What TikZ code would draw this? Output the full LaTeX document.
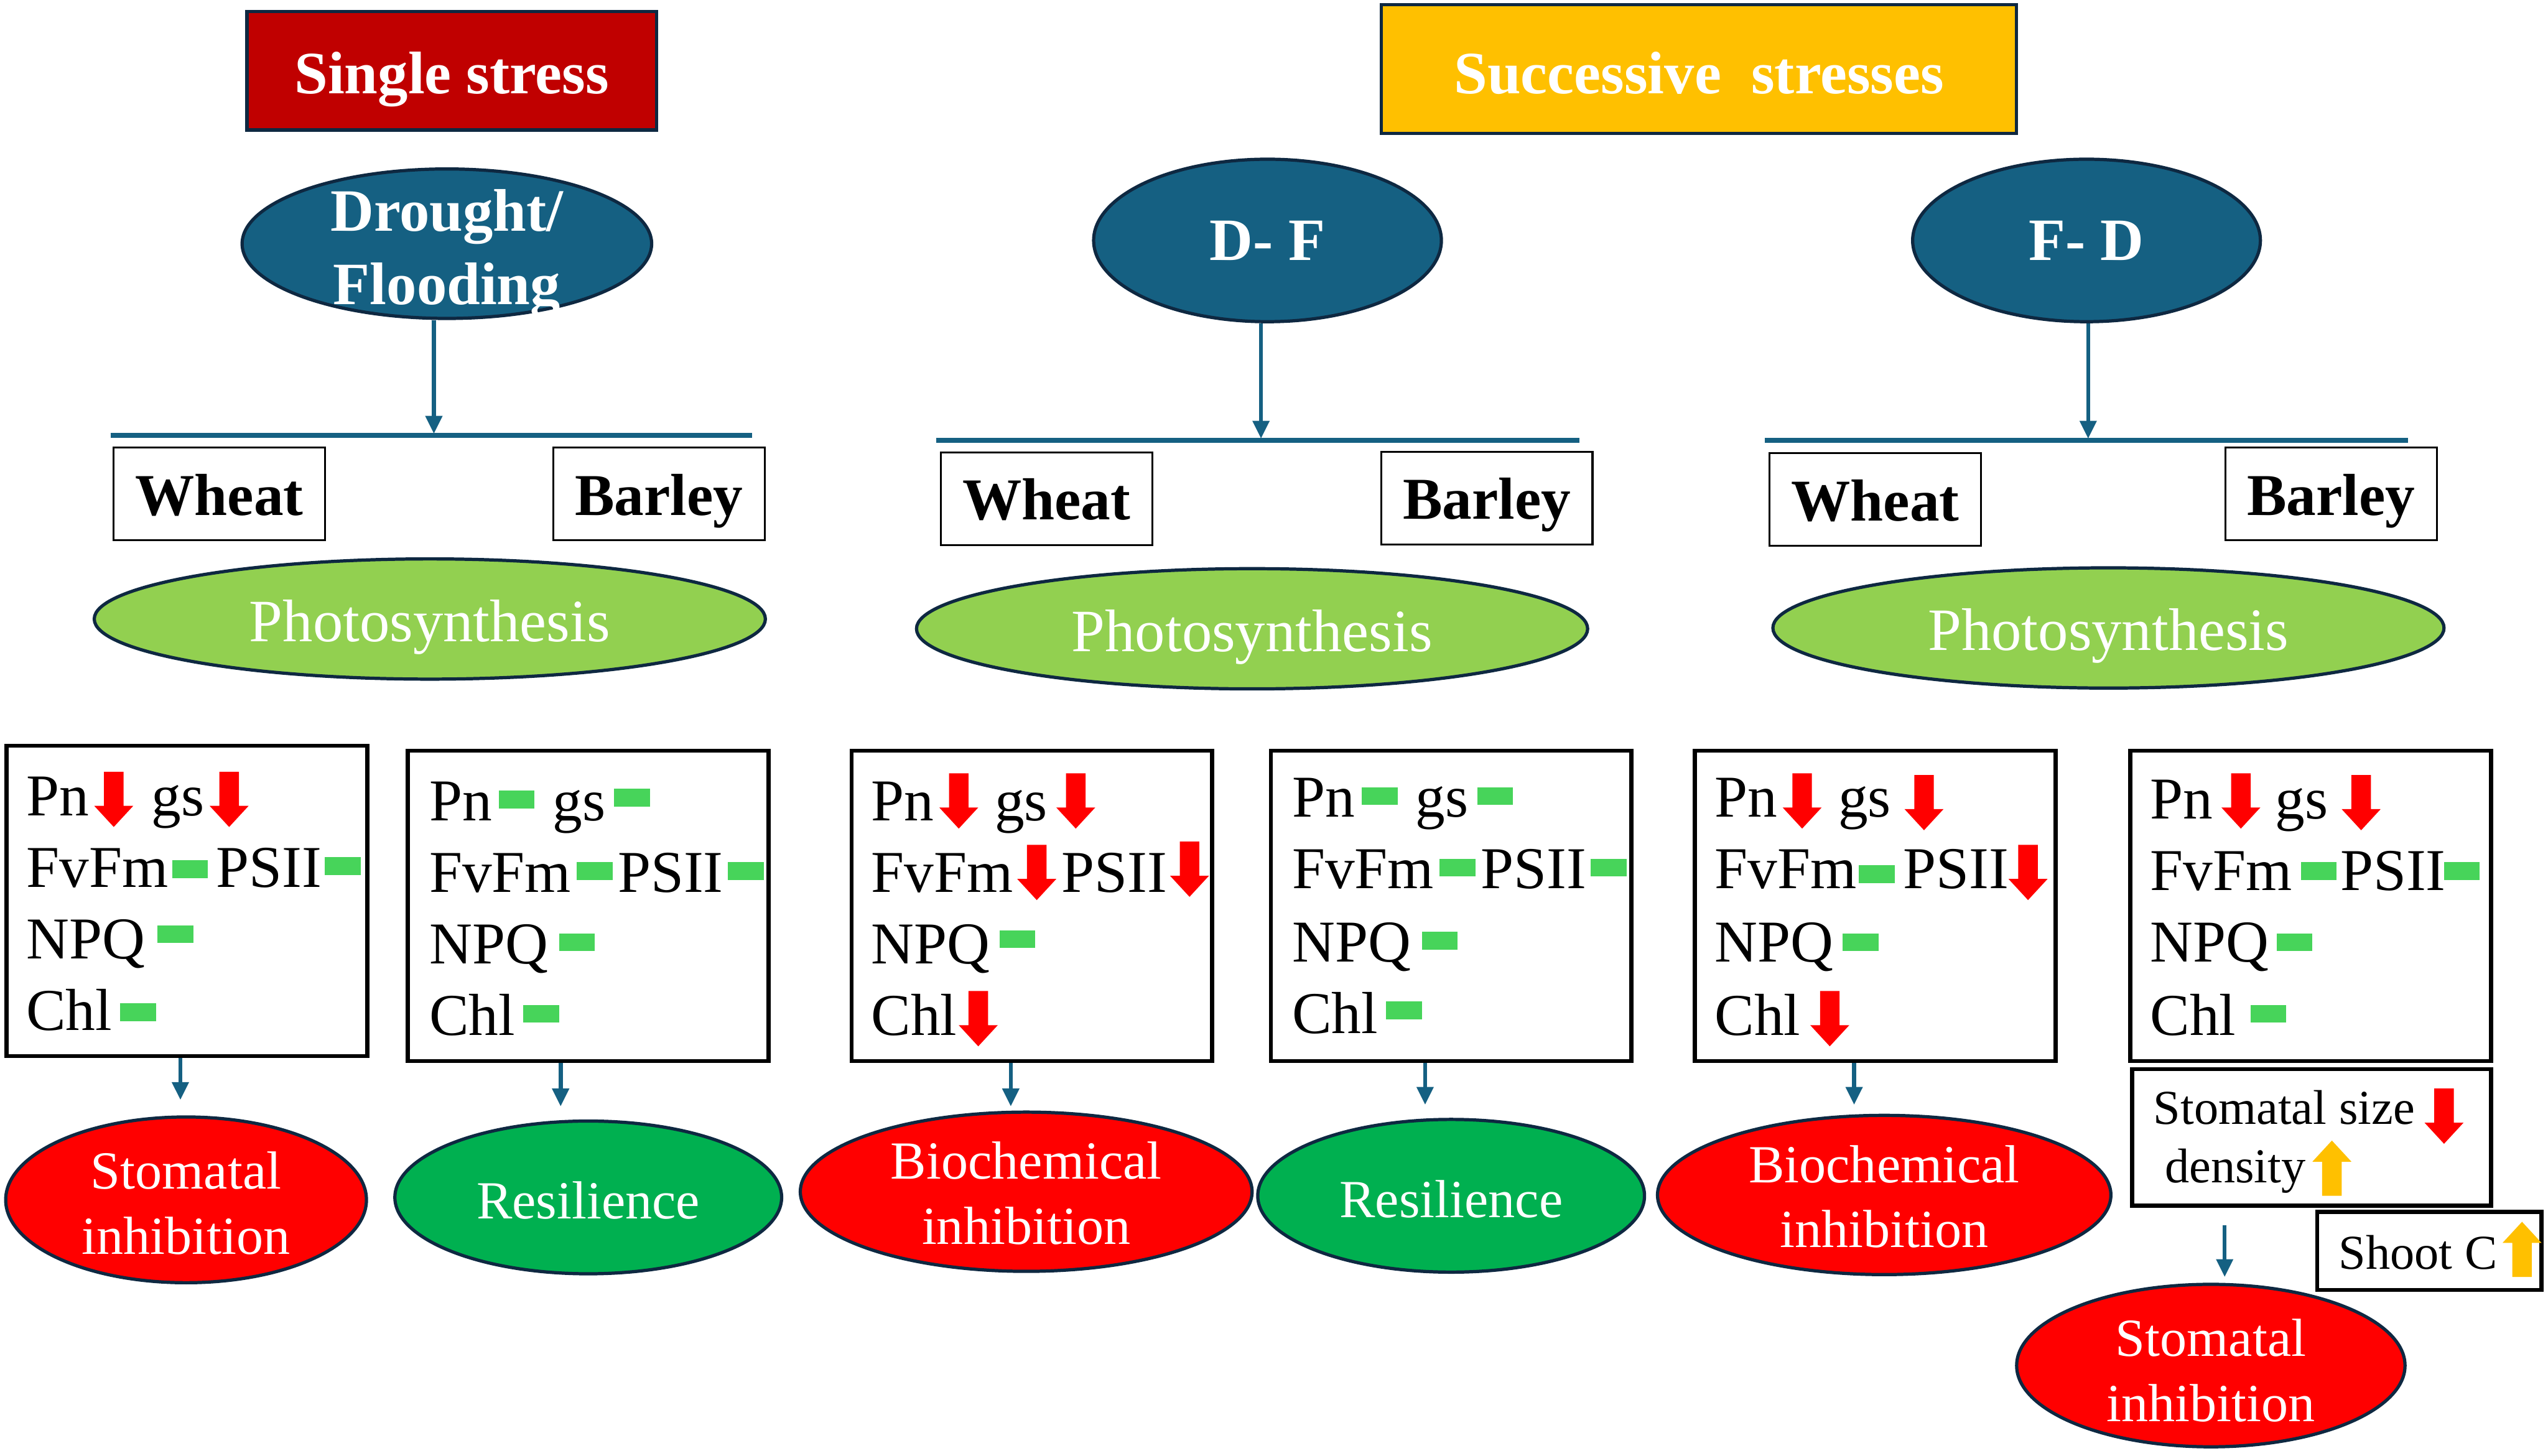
\documentclass[tikz,border=0pt]{standalone}
\usepackage{fontspec}
\setmainfont{Liberation Serif}
\usetikzlibrary{shapes.geometric,arrows.meta}
\definecolor{teal}{HTML}{156082}
\definecolor{navy}{HTML}{0E2841}
\definecolor{leaf}{HTML}{92D050}
\definecolor{dred}{HTML}{C00000}
\definecolor{gold}{HTML}{FFC000}
\definecolor{dgreen}{HTML}{00B050}
\definecolor{dashgreen}{HTML}{47D45A}
\tikzset{
  titlebox/.style={rectangle,draw=navy,line width=2pt,text=white,inner sep=0pt,font=\fontsize{37}{45}\selectfont\bfseries},
  ell/.style={ellipse,draw=navy,line width=2pt,inner sep=0pt},
  lblbold/.style={text=white,align=center,inner sep=0pt,font=\fontsize{37}{45}\selectfont\bfseries},
  lblphoto/.style={text=white,align=center,inner sep=0pt,yshift=-5pt,font=\fontsize{37}{45}\selectfont},
  lblres/.style={text=white,align=center,inner sep=0pt,yshift=-2pt,font=\fontsize{33}{40}\selectfont},
  cropbox/.style={rectangle,draw=black,line width=1.2pt,minimum width=130pt,minimum height=57pt,inner sep=0pt,text height=26pt,text depth=0pt,font=\fontsize{36.5}{44}\selectfont\bfseries},
  panel/.style={rectangle,draw=black,line width=2.5pt,minimum width=222pt,minimum height=191pt,inner sep=0pt},
  smallbox/.style={rectangle,draw=black,line width=2.5pt,inner sep=0pt},
  mtxt/.style={anchor=base west,inner sep=0pt,font=\fontsize{36.5}{44}\selectfont},
  stxt/.style={anchor=base west,inner sep=0pt,font=\fontsize{30}{36}\selectfont},
  link/.style={draw=teal,line width=2.5pt,-{Triangle[width=10pt,length=11pt]}},
  bar/.style={draw=teal,line width=3pt},
}
% dash mark: left x, centre y
\newcommand{\dashmark}[2]{\fill[dashgreen] (#1,#2-5.5) rectangle (#1+22,#2+5.5);}
% down arrow: centre x, top y
\newcommand{\dnmark}[2]{\fill[red] (#1-6,#2) -- (#1+6,#2) -- (#1+6,#2+21) -- (#1+12,#2+21) -- (#1,#2+34) -- (#1-12,#2+21) -- (#1-6,#2+21) -- cycle;}
% up arrow: centre x, top y
\newcommand{\upmark}[2]{\fill[gold] (#1,#2) -- (#1+12,#2+13) -- (#1+6,#2+13) -- (#1+6,#2+34) -- (#1-6,#2+34) -- (#1-6,#2+13) -- (#1-12,#2+13) -- cycle;}
\newcommand{\mt}[4]{\node[mtxt] (#1) at (#2,#3+12) {#4};}
\begin{document}
\begin{tikzpicture}[x=1pt,y=-1pt]
\useasboundingbox (0,0) rectangle (1568,896);

% titles
\node[titlebox,fill=dred,minimum width=252pt,minimum height=73pt,text height=29pt,text depth=1pt] (single) at (278,43.5) {Single stress};
\node[titlebox,fill=gold,minimum width=391pt,minimum height=79pt,text height=30pt,text depth=0pt] (succ) at (1045.5,42.5) {Successive\ \ stresses};

% stress ellipses
\node[ell,fill=teal,minimum width=252pt,minimum height=92pt,label={[lblbold,yshift=-6pt]center:{Drought/\\Flooding}}] (dfl) at (275,150) {};
\node[ell,fill=teal,minimum width=214pt,minimum height=100pt,label={[lblbold]center:{D- F}}] (df) at (780,148) {};
\node[ell,fill=teal,minimum width=214pt,minimum height=100pt,label={[lblbold]center:{F- D}}] (fd) at (1284,148) {};

% bars
\coordinate (b1l) at (68,268); \coordinate (b1r) at (463,268);
\coordinate (b2l) at (576,271); \coordinate (b2r) at (972,271);
\coordinate (b3l) at (1086,271); \coordinate (b3r) at (1482,271);
\draw[bar] (b1l) -- (b1r);
\draw[bar] (b2l) -- (b2r);
\draw[bar] (b3l) -- (b3r);
\coordinate (t1) at (267,267); \coordinate (t2) at (776,270); \coordinate (t3) at (1285,270);
\draw[link] (t1 |- dfl.south) -- (t1);
\draw[link] (t2 |- df.south) -- (t2);
\draw[link] (t3 |- fd.south) -- (t3);

% crops
\node[cropbox] (w1) at (135,304) {Wheat};
\node[cropbox] (b1) at (405.5,304) {Barley};
\node[cropbox] (w2) at (644,307) {Wheat};
\node[cropbox] (b2) at (915,306.5) {Barley};
\node[cropbox] (w3) at (1154,307.5) {Wheat};
\node[cropbox] (b3) at (1434.5,304) {Barley};

% photosynthesis
\node[ell,fill=leaf,minimum width=413pt,minimum height=74pt,label={[lblphoto]center:{Photosynthesis}}] (ph1) at (264.5,381) {};
\node[ell,fill=leaf,minimum width=413pt,minimum height=74pt,label={[lblphoto]center:{Photosynthesis}}] (ph2) at (770.5,387) {};
\node[ell,fill=leaf,minimum width=413pt,minimum height=74pt,label={[lblphoto]center:{Photosynthesis}}] (ph3) at (1297.5,386.5) {};

% panels
\node[panel] (p1) at (115,554.5) {};
\node[panel] (p2) at (362,557.5) {};
\node[panel] (p3) at (635,557.5) {};
\node[panel] (p4) at (893,557.5) {};
\node[panel] (p5) at (1154,557.5) {};
\node[panel] (p6) at (1422,557.5) {};

% panel 1
\mt{a1}{16}{490}{Pn} \dnmark{70}{475} \mt{a2}{93}{490}{gs} \dnmark{141}{475}
\mt{a3}{16}{534}{FvFm} \dashmark{106}{535} \mt{a4}{133}{534}{PSII} \dashmark{200}{533}
\mt{a5}{16}{578}{NPQ} \dashmark{97}{575}
\mt{a6}{16}{622}{Chl} \dashmark{74}{623}
% panel 2
\mt{b1t}{264}{493}{Pn} \dashmark{307}{492} \mt{b2t}{340}{493}{gs} \dashmark{378}{491}
\mt{b3t}{264}{537}{FvFm} \dashmark{355}{536} \mt{b4t}{380}{537}{PSII} \dashmark{448}{536}
\mt{b5t}{264}{581}{NPQ} \dashmark{344}{580}
\mt{b6t}{264}{625}{Chl} \dashmark{322}{624}
% panel 3
\mt{c1}{536}{493}{Pn} \dnmark{590}{476} \mt{c2}{612}{493}{gs} \dnmark{662}{476}
\mt{c3}{536}{537}{FvFm} \dnmark{638}{520} \mt{c4}{653}{537}{PSII} \dnmark{732}{518}
\mt{c5}{536}{581}{NPQ} \dashmark{615}{578}
\mt{c6}{536}{625}{Chl} \dnmark{602}{610}
% panel 4
\mt{d1}{795}{491}{Pn} \dashmark{838}{490} \mt{d2}{871}{491}{gs} \dashmark{909}{490}
\mt{d3}{795}{535}{FvFm} \dashmark{886}{534} \mt{d4}{911}{535}{PSII} \dashmark{979}{534}
\mt{d5}{795}{580}{NPQ} \dashmark{875}{579}
\mt{d6}{795}{624}{Chl} \dashmark{853}{622}
% panel 5
\mt{e1}{1055}{491}{Pn} \dnmark{1109}{476} \mt{e2}{1131}{491}{gs} \dnmark{1184}{477}
\mt{e3}{1055}{535}{FvFm} \dashmark{1144}{538} \mt{e4}{1171}{535}{PSII} \dnmark{1248}{520}
\mt{e5}{1055}{580}{NPQ} \dashmark{1134}{580}
\mt{e6}{1055}{625}{Chl} \dnmark{1126}{610}
% panel 6
\mt{f1}{1323}{492}{Pn} \dnmark{1379}{476} \mt{f2}{1400}{492}{gs} \dnmark{1453}{477}
\mt{f3}{1323}{536}{FvFm} \dashmark{1416}{536} \mt{f4}{1440}{536}{PSII} \dashmark{1504}{536}
\mt{f5}{1323}{580}{NPQ} \dashmark{1401}{580}
\mt{f6}{1323}{625}{Chl} \dashmark{1385}{624}

% extra boxes
\node[smallbox,minimum width=221pt,minimum height=84pt] (stom) at (1422.5,700) {};
\node[stxt] (s1) at (1325,692) {Stomatal size};
\dnmark{1504}{670}
\node[stxt] (s2) at (1332,728) {density};
\upmark{1435}{702}
\node[smallbox,minimum width=138pt,minimum height=48pt] (shoot) at (1495,770) {};
\node[stxt] (s3) at (1439,781) {Shoot C};
\upmark{1552}{752}

% outcome ellipses
\node[ell,fill=red,minimum width=222pt,minimum height=102pt,label={[lblres]center:{Stomatal\\inhibition}}] (r1) at (114.5,738.5) {};
\node[ell,fill=dgreen,minimum width=238pt,minimum height=94pt,label={[lblres]center:{Resilience}}] (r2) at (362,737) {};
\node[ell,fill=red,minimum width=278pt,minimum height=98pt,label={[lblres,yshift=1pt]center:{Biochemical\\inhibition}}] (r3) at (631.5,733.5) {};
\node[ell,fill=dgreen,minimum width=238pt,minimum height=94pt,label={[lblres]center:{Resilience}}] (r4) at (893,736) {};
\node[ell,fill=red,minimum width=279pt,minimum height=98pt,label={[lblres,yshift=1pt]center:{Biochemical\\inhibition}}] (r5) at (1159.5,735.5) {};
\node[ell,fill=red,minimum width=239pt,minimum height=100pt,label={[lblres,yshift=-1pt]center:{Stomatal\\inhibition}}] (r6) at (1360.5,840.5) {};

% outcome arrows
\coordinate (e1p) at (111,677); \coordinate (e2p) at (345,681); \coordinate (e3p) at (622,681);
\coordinate (e4p) at (877,680); \coordinate (e5p) at (1141,680);
\coordinate (e6s) at (1369,754); \coordinate (e6p) at (1369,786);
\draw[link] (e1p |- p1.south) -- (e1p);
\draw[link] (e2p |- p2.south) -- (e2p);
\draw[link] (e3p |- p3.south) -- (e3p);
\draw[link] (e4p |- p4.south) -- (e4p);
\draw[link] (e5p |- p5.south) -- (e5p);
\draw[link] (e6s) -- (e6p);
\end{tikzpicture}
\end{document}
